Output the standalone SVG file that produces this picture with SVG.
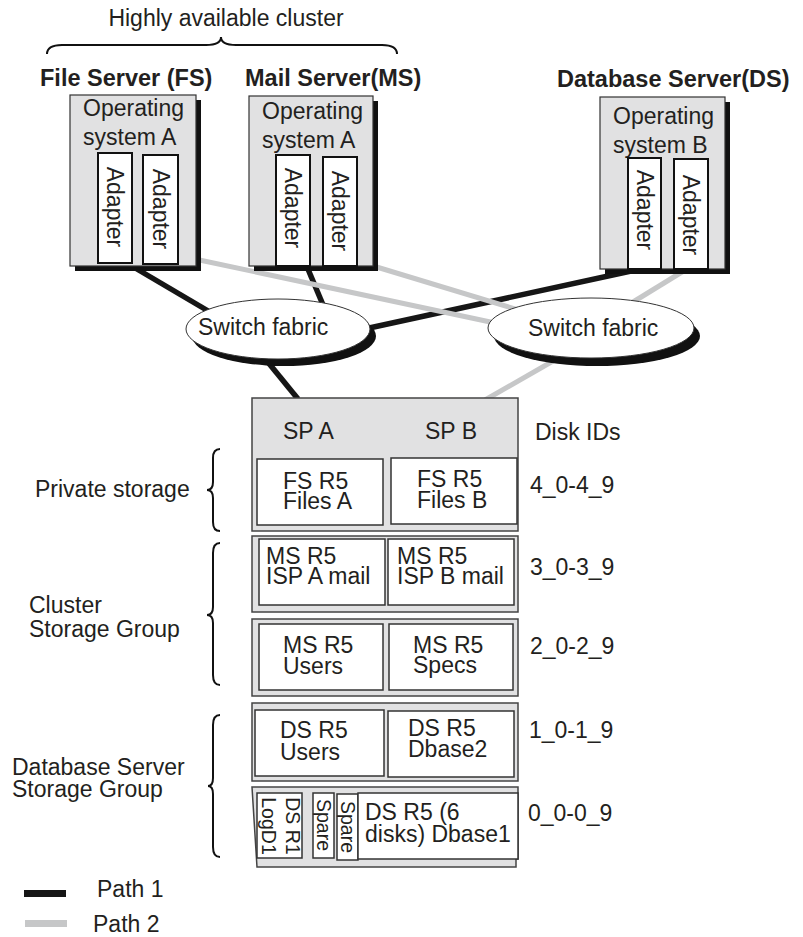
<svg xmlns="http://www.w3.org/2000/svg" width="803" height="937" viewBox="0 0 803 937">
<style>
text{font-family:"Liberation Sans",Arial,sans-serif;font-size:23px;fill:#231f20}
.b{font-weight:bold;font-size:23.5px}
.sm{font-size:19.5px}
.srv{fill:#e1e1e2;stroke:#333;stroke-width:1.2}
.sh{fill:#111}
.ad{fill:#fff;stroke:#111;stroke-width:2}
.p1{stroke:#161616;stroke-width:5.5;fill:none}
.p2{stroke:#c6c7c8;stroke-width:5;fill:none}
.grp{fill:#e1e1e2;stroke:#444;stroke-width:1.5}
.box{fill:#fff;stroke:#333;stroke-width:1.5}
.brace{fill:none;stroke:#111;stroke-width:2}
.ell{fill:#fff;stroke:#333;stroke-width:1}
</style>

<g id="connectors">
  <line class="p1" x1="125" y1="262" x2="215" y2="315"/>
  <line class="p1" x1="305" y1="262" x2="326" y2="312"/>
  <line class="p1" x1="645" y1="268" x2="360" y2="330"/>
  <line class="p1" x1="258" y1="350" x2="298" y2="399"/>
  <line class="p2" x1="190" y1="258" x2="495" y2="323"/>
  <line class="p2" x1="370" y1="265" x2="525" y2="312"/>
  <line class="p2" x1="695" y1="264" x2="620" y2="310"/>
  <line class="p2" x1="560" y1="357" x2="485" y2="400"/>
</g>

<g id="cluster-label">
  <path class="brace" d="M47,54 Q47,45 62,45 L206,45 Q221,45 221,37 Q221,45 236,45 L382,45 Q397,45 397,54"/>
  <text x="226" y="26" text-anchor="middle">Highly available cluster</text>
</g>

<g id="file-server">
  <text class="b" x="40" y="86">File Server (FS)</text>
  <rect class="sh" x="75" y="100" width="126" height="171"/>
  <rect class="srv" x="70" y="95" width="126" height="171"/>
  <text x="83" y="116">Operating</text>
  <text x="83" y="145">system A</text>
  <rect class="ad" x="98" y="153" width="34" height="110"/>
  <text transform="translate(107,207) rotate(90)" text-anchor="middle">Adapter</text>
  <rect class="ad" x="143" y="155" width="35" height="109"/>
  <text transform="translate(152.5,209) rotate(90)" text-anchor="middle">Adapter</text>
</g>

<g id="mail-server">
  <text class="b" x="245" y="86">Mail Server(MS)</text>
  <rect class="sh" x="254" y="101" width="124" height="170"/>
  <rect class="srv" x="249" y="96" width="124" height="170"/>
  <text x="262" y="119">Operating</text>
  <text x="262" y="148">system A</text>
  <rect class="ad" x="276" y="155" width="34" height="111"/>
  <text transform="translate(285,208) rotate(90)" text-anchor="middle">Adapter</text>
  <rect class="ad" x="323" y="157" width="34" height="109"/>
  <text transform="translate(332,211) rotate(90)" text-anchor="middle">Adapter</text>
</g>

<g id="database-server">
  <text class="b" x="557" y="87">Database Server(DS)</text>
  <rect class="sh" x="605" y="102" width="125" height="172"/>
  <rect class="srv" x="600" y="97" width="125" height="172"/>
  <text x="613" y="124">Operating</text>
  <text x="613" y="153">system B</text>
  <rect class="ad" x="628" y="158" width="33" height="111"/>
  <text transform="translate(636.5,210) rotate(90)" text-anchor="middle">Adapter</text>
  <rect class="ad" x="674" y="159" width="34" height="110"/>
  <text transform="translate(683,215) rotate(90)" text-anchor="middle">Adapter</text>
</g>

<g id="switch-left">
  <ellipse class="sh" cx="284" cy="336" rx="92" ry="30"/>
  <ellipse class="ell" cx="278" cy="329" rx="92" ry="30"/>
  <text x="198" y="335">Switch fabric</text>
</g>

<g id="switch-right">
  <ellipse class="sh" cx="597" cy="336" rx="103" ry="30"/>
  <ellipse class="ell" cx="591" cy="328" rx="103" ry="30"/>
  <text x="528" y="336">Switch fabric</text>
</g>

<g id="storage">
  <rect class="grp" x="252" y="398" width="266" height="133"/>
  <text x="283" y="439">SP A</text>
  <text x="425" y="439">SP B</text>
  <rect class="box" x="257" y="459" width="126" height="66"/>
  <text x="283" y="489">FS R5</text>
  <text x="283" y="509">Files A</text>
  <rect class="box" x="391" y="458" width="126" height="66"/>
  <text x="417" y="487">FS R5</text>
  <text x="417" y="508">Files B</text>

  <rect class="grp" x="252" y="536" width="266" height="76"/>
  <rect class="box" x="259" y="539" width="126" height="66"/>
  <text x="266" y="564">MS R5</text>
  <text x="266" y="584">ISP A mail</text>
  <rect class="box" x="388" y="539" width="126" height="66"/>
  <text x="397" y="564">MS R5</text>
  <text x="397" y="584">ISP B mail</text>

  <rect class="grp" x="252" y="619" width="266" height="77"/>
  <rect class="box" x="259" y="624" width="124" height="66"/>
  <text x="283" y="653">MS R5</text>
  <text x="283" y="674">Users</text>
  <rect class="box" x="389" y="624" width="124" height="66"/>
  <text x="413" y="653">MS R5</text>
  <text x="413" y="673">Specs</text>

  <rect class="grp" x="252" y="703" width="266" height="78"/>
  <rect class="box" x="255" y="710" width="129" height="66"/>
  <text x="280" y="738">DS R5</text>
  <text x="280" y="760">Users</text>
  <rect class="box" x="388" y="711" width="126" height="66"/>
  <text x="408" y="736">DS R5</text>
  <text x="408" y="757">Dbase2</text>

  <path class="grp" d="M252,787 L518,787 L518,859 L516,859 L516,867 L257,867 Z"/>
  <rect class="box" x="257" y="793" width="45" height="65"/>
  <text class="sm" transform="translate(286,826) rotate(90)" text-anchor="middle">DS R1</text>
  <text class="sm" transform="translate(261.5,826) rotate(90)" text-anchor="middle">LogD1</text>
  <rect class="box" x="313" y="793" width="21" height="65"/>
  <text class="sm" transform="translate(317,825) rotate(90)" text-anchor="middle">Spare</text>
  <rect class="box" x="337" y="794" width="21" height="66"/>
  <text class="sm" transform="translate(341,827) rotate(90)" text-anchor="middle">Spare</text>
  <rect class="box" x="358" y="793" width="160" height="66"/>
  <text x="365" y="820">DS R5 (6</text>
  <text x="365" y="842">disks) Dbase1</text>
</g>

<g id="disk-ids">
  <text x="535" y="440">Disk IDs</text>
  <text x="530" y="493">4_0-4_9</text>
  <text x="530" y="575">3_0-3_9</text>
  <text x="530" y="654">2_0-2_9</text>
  <text x="529" y="738">1_0-1_9</text>
  <text x="528" y="821">0_0-0_9</text>
</g>

<g id="private-storage">
  <path class="brace" d="M220,449 Q213,449 213,458 L213,482 Q213,490 207,490 Q213,490 213,498 L213,522 Q213,531 220,531"/>
  <text x="35" y="497">Private storage</text>
</g>

<g id="cluster-storage">
  <path class="brace" d="M220,543 Q213,543 213,553 L213,607 Q213,615 207,615 Q213,615 213,623 L213,675 Q213,685 220,685"/>
  <text x="29" y="613">Cluster</text>
  <text x="29" y="637">Storage Group</text>
</g>

<g id="db-storage">
  <path class="brace" d="M220,715 Q213,715 213,725 L213,778 Q213,786 208,786 Q213,786 213,794 L213,847 Q213,857 220,857"/>
  <text x="12" y="775">Database Server</text>
  <text x="12" y="797">Storage Group</text>
</g>

<g id="legend">
  <rect x="24" y="890" width="42" height="7" fill="#161616"/>
  <text x="97" y="897">Path 1</text>
  <rect x="25" y="920" width="42" height="7" fill="#c6c7c8"/>
  <text x="93" y="932">Path 2</text>
</g>
</svg>
